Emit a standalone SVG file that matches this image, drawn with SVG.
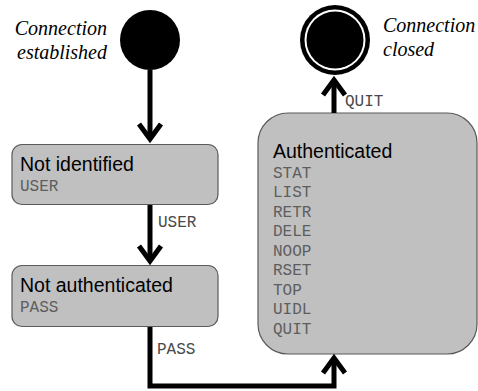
<svg xmlns="http://www.w3.org/2000/svg" width="478" height="391" viewBox="0 0 478 391">
  <style>
    .node { fill: #c0c0c0; stroke: #5a5a5a; stroke-width: 1.2; }
    .title { font-family: "Liberation Sans", Arial, sans-serif; font-size: 19.5px; fill: #000; }
    .cmd { font-family: "Liberation Mono", "Courier New", monospace; font-size: 16px; fill: #5e5e5e; }
    .lbl { font-family: "Liberation Mono", "Courier New", monospace; font-size: 16px; fill: #4a4a4a; }
    .note { font-family: "Liberation Serif", "Times New Roman", serif; font-style: italic; font-size: 20px; fill: #000; }
    .edge { fill: none; stroke: #000; stroke-width: 5; stroke-linejoin: miter; }
  </style>
  <defs>
    <marker id="arrow" markerUnits="userSpaceOnUse" viewBox="-20 -14 24 28" refX="0" refY="0" markerWidth="24" markerHeight="28" orient="auto" overflow="visible">
      <path d="M-15,-11 L0,0 L-15,11" fill="none" stroke="#000" stroke-width="5" stroke-linejoin="miter" stroke-miterlimit="10"/>
    </marker>
  </defs>

  <g id="start">
    <circle cx="150" cy="40" r="30" fill="#000"/>
    <text class="note" x="107" y="35" text-anchor="end">Connection</text>
    <text class="note" x="107" y="59" text-anchor="end">established</text>
  </g>

  <g id="end">
    <circle cx="335" cy="40" r="35" fill="#000"/>
    <circle cx="335" cy="40" r="30.5" fill="#fff"/>
    <circle cx="335" cy="40" r="28.5" fill="#000"/>
    <text class="note" x="383" y="32">Connection</text>
    <text class="note" x="383" y="56">closed</text>
  </g>

  <g id="not-identified">
    <rect class="node" x="12" y="144.5" width="206" height="60" rx="10" ry="10"/>
    <text class="title" x="20" y="171">Not identified</text>
    <text class="cmd" x="20" y="191">USER</text>
  </g>

  <g id="not-authenticated">
    <rect class="node" x="12" y="265.5" width="206" height="61" rx="10" ry="10"/>
    <text class="title" x="20" y="292">Not authenticated</text>
    <text class="cmd" x="20" y="312">PASS</text>
  </g>

  <g id="authenticated">
    <rect class="node" x="258" y="113" width="219" height="241" rx="30" ry="30"/>
    <text class="title" x="273" y="158">Authenticated</text>
    <text class="cmd" x="273" y="177.5">STAT</text>
    <text class="cmd" x="273" y="197">LIST</text>
    <text class="cmd" x="273" y="216.5">RETR</text>
    <text class="cmd" x="273" y="236">DELE</text>
    <text class="cmd" x="273" y="255.5">NOOP</text>
    <text class="cmd" x="273" y="275">RSET</text>
    <text class="cmd" x="273" y="294.5">TOP</text>
    <text class="cmd" x="273" y="314">UIDL</text>
    <text class="cmd" x="273" y="333.5">QUIT</text>
  </g>

  <g id="connectors">
    <path class="edge" d="M150,70 L150,139" marker-end="url(#arrow)"/>
    <path class="edge" d="M150,205 L150,261" marker-end="url(#arrow)"/>
    <text class="lbl" x="158" y="227">USER</text>
    <path class="edge" d="M150,327 L150,386 L334,386 L334,358" marker-end="url(#arrow)"/>
    <text class="lbl" x="157" y="354">PASS</text>
    <path class="edge" d="M334,113 L334,80" marker-end="url(#arrow)"/>
    <text class="lbl" x="345" y="106">QUIT</text>
  </g>
</svg>
